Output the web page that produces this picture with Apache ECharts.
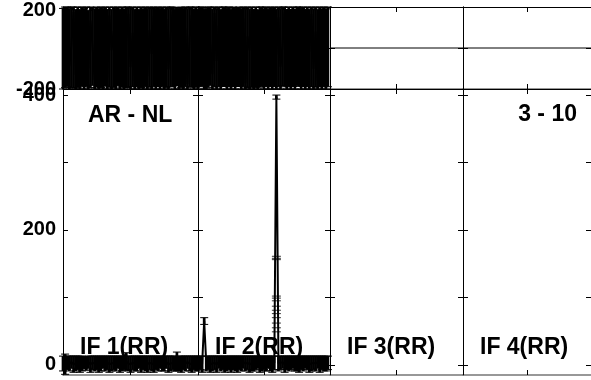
<!DOCTYPE html>
<html><head><meta charset="utf-8">
<script src="https://cdn.jsdelivr.net/npm/echarts@6/dist/echarts.min.js"></script>
<style>html,body{margin:0;padding:0;background:#fff}#c{width:591px;height:380px}</style>
</head><body><div id="c"></div>
<script>
// ---- labels ----
const ifLabels = ['IF 1(RR)', 'IF 2(RR)', 'IF 3(RR)', 'IF 4(RR)'];
const baselineLabel = 'AR - NL';
const scanLabel = '3 - 10';
const phaseTickValues = [-200, 0, 200];
const phaseLabelValues = [-200, 200];
const ampTickValues = [0, 100, 200, 300, 400];
const ampLabelValues = [0, 200, 400];

// ---- phase (deg) per channel, IF1 / IF2, with errors ----
const phaseIF1 = [
 -152, 47, 163, -88, 12, 175, -131, 96, -23, 148, -170, 61, -99, 134, 8, -157,
 119, -45, 172, -66, 27, -142, 158, -11, 83, -178, 139, -54, 101, -122, 35, 167,
 -93, 74, -161, 126, -7, 179, -115, 52, -137, 88, -29, 154, -74, 19, -168, 111,
 -49, 141, -104, 66, 177, -83, 5, -146, 129, -38, 95, -175, 43, 161, -118, 71];
const phaseErrIF1 = [
 345, 240, 352, 280, 205, 370, 318, 290, 210, 335, 362, 250, 283, 327, 190, 348,
 310, 236, 365, 258, 213, 330, 349, 198, 275, 371, 324, 242, 292, 313, 228, 358,
 287, 262, 350, 316, 194, 372, 306, 241, 329, 279, 222, 343, 268, 207, 360, 300,
 239, 333, 297, 255, 366, 271, 188, 337, 321, 230, 284, 367, 233, 352, 309, 262];
const phaseIF2 = [
 -164, 58, 137, -21, -176, 92, 14, -128, 171, -63, 108, -149, 31, 156, -97, 77,
 -39, 169, -134, 3, 121, -81, 145, -172, 56, -12, 179, -108, 86, -155, 23, 133,
 -69, 162, -117, 41, -179, 99, -33, 150, -91, 16, 174, -140, 64, -58, 127, -165,
 9, 143, -76, 180, -126, 49, -17, 166, -101, 80, -159, 117, -44, 158, -85, 30];
const phaseErrIF2 = [
 352, 247, 323, 209, 368, 284, 196, 318, 361, 255, 297, 336, 218, 344, 290, 266,
 228, 357, 326, 191, 309, 272, 334, 365, 249, 202, 370, 296, 278, 341, 214, 320,
 260, 349, 307, 229, 372, 287, 221, 339, 283, 199, 363, 328, 253, 246, 315, 355,
 193, 330, 269, 368, 314, 238, 206, 354, 292, 271, 346, 305, 235, 347, 276, 219];
// IF3 / IF4 phases: flat zero across the band
const flatChannels = [0, 64];
const phaseIF3 = [0, 0];
const phaseIF4 = [0, 0];

// ---- amplitude per channel, IF1 / IF2, with errors ----
const ampIF1 = [
 2, 1, 3, 2, 4, 1, 2, 3, 1, 2, 3, 2, 4, 1, 3, 2,
 3, 1, 2, 4, 2, 3, 1, 2, 3, 2, 4, 1, 2, 3, 5, 2,
 1, 3, 2, 2, 4, 1, 3, 2, 1, 3, 2, 1, 3, 2, 4, 2,
 2, 4, 1, 2, 3, 2, 5, 2, 1, 3, 2, 4, 2, 1, 3, 2];
const ampErrIF1 = [
 11, 15, 10, 11, 9, 12, 11, 10, 12, 11, 9, 10, 9, 12, 10, 11,
 10, 12, 11, 9, 11, 10, 12, 11, 10, 11, 9, 12, 11, 10, 13, 11,
 12, 10, 11, 11, 9, 12, 10, 11, 12, 10, 11, 12, 10, 11, 9, 11,
 11, 9, 12, 11, 10, 11, 14, 11, 12, 10, 11, 9, 11, 12, 10, 11];
const ampIF2 = [
 2, 3, 1, 65, 2, 3, 1, 2, 3, 1, 4, 2, 3, 1, 2, 3,
 1, 3, 2, 1, 3, 2, 4, 2, 3, 1, 2, 2, 3, 4, 1, 2,
 3, 2, 4, 2, 1, 3, 397, 2, 3, 4, 1, 3, 2, 3, 4, 2,
 2, 1, 3, 2, 4, 3, 1, 2, 3, 2, 4, 1, 3, 2, 2, 3];
const ampErrIF2 = [
 11, 10, 12, 5, 11, 10, 12, 11, 10, 12, 9, 11, 10, 12, 11, 10,
 12, 10, 11, 12, 10, 11, 9, 11, 10, 12, 11, 11, 10, 9, 12, 11,
 10, 11, 9, 11, 12, 10, 3, 11, 10, 9, 12, 10, 11, 10, 9, 11,
 11, 12, 10, 11, 9, 10, 12, 11, 10, 11, 9, 12, 10, 11, 11, 10];
// extra error-bar caps stacked on the strong IF2 channel
const spikeChannel = 38;
const spikeCapLevels = [161, 158, 156, 102, 99, 95, 87, 81, 76, 70, 62, 55, 49];

// ---- layout ----
const cols = [{left: 63, width: 135}, {left: 198, width: 132}, {left: 330, width: 133}, {left: 463, width: 133}];
const rows = [{top: 7, height: 82, min: -200, max: 200}, {top: 89, height: 286, min: -15, max: 409}];
const FONT = '"Liberation Sans", Arial, sans-serif';

const grid = [], xAxis = [], yAxis = [];
rows.forEach((r, ri) => cols.forEach((c, ci) => {
  const g = grid.length;
  grid.push({left: c.left, top: r.top, width: c.width, height: r.height, containLabel: false});
  const tick = {show: true, inside: true, length: 5, lineStyle: {color: '#000', width: 1}};
  ['bottom', 'top'].forEach(pos => xAxis.push({
    type: 'value', gridIndex: g, position: pos, min: 0, max: 64, interval: 32,
    axisLine: {show: true, onZero: false, lineStyle: pos === 'bottom' ? {color: '#777', width: 1.5} : {color: '#000', width: 1}},
    axisTick: tick, axisLabel: {show: false}, splitLine: {show: false}
  }));
  ['left', 'right'].forEach(pos => {
    const isPhase = ri === 0;
    const ax = {
      type: 'value', gridIndex: g, position: pos, min: r.min, max: r.max,
      axisLine: {show: true, onZero: false, lineStyle: {color: '#000', width: 1}},
      axisTick: Object.assign({}, tick, {customValues: isPhase ? phaseTickValues : ampTickValues}),
      splitLine: {show: false},
      axisLabel: {show: pos === 'left' && ci === 0, margin: 7, color: '#000',
        fontFamily: FONT, fontWeight: 'bold', fontSize: 20,
        customValues: isPhase ? phaseLabelValues : ampLabelValues}
    };
    if (isPhase) {
      ax.axisLabel.formatter = v => v === 200 ? '{a|200}' : '{b|' + v + '}';
      ax.axisLabel.rich = {
        a: {padding: [6, 0, 0, 0], fontFamily: FONT, fontWeight: 'bold', fontSize: 20, color: '#000'},
        b: {fontFamily: FONT, fontWeight: 'bold', fontSize: 20, color: '#000'}
      };
    }
    yAxis.push(ax);
  });
}));

function errBars(yMin, yMax, hw, lw) {
  return function (params, api) {
    const x = api.value(0), v = api.value(1), e = api.value(2);
    const lo = Math.max(yMin, v - e), hi = Math.min(yMax, v + e);
    const a = api.coord([x, lo]), b = api.coord([x, hi]);
    const st = {stroke: '#000', lineWidth: lw};
    const cs = {stroke: '#000', lineWidth: 1};
    return {type: 'group', children: [
      {type: 'line', shape: {x1: a[0], y1: a[1], x2: b[0], y2: b[1]}, style: st},
      {type: 'line', shape: {x1: a[0] - hw, y1: a[1], x2: a[0] + hw, y2: a[1]}, style: cs},
      {type: 'line', shape: {x1: b[0] - hw, y1: b[1], x2: b[0] + hw, y2: b[1]}, style: cs}
    ]};
  };
}
const pts = arr => arr.map((v, i) => [i, v]);
const errPts = (arr, err) => arr.map((v, i) => [i, v, err[i]]);
const lineS = (data, g, w) => ({type: 'line', xAxisIndex: 2 * g, yAxisIndex: 2 * g, data, showSymbol: false,
  lineStyle: {color: '#000', width: w}, silent: true, z: 3});
const errS = (data, g, r) => ({type: 'custom', xAxisIndex: 2 * g, yAxisIndex: 2 * g, data,
  renderItem: errBars(rows[r].min, rows[r].max, 4, 2.7), silent: true, z: 3});

const series = [
  lineS(pts(phaseIF1), 0, 2), errS(errPts(phaseIF1, phaseErrIF1), 0, 0),
  lineS(pts(phaseIF2), 1, 2), errS(errPts(phaseIF2, phaseErrIF2), 1, 0),
  lineS(flatChannels.map((ch, i) => [ch, phaseIF3[i]]), 2, 1),
  lineS(flatChannels.map((ch, i) => [ch, phaseIF4[i]]), 3, 1),
  lineS(pts(ampIF1), 4, 2), errS(errPts(ampIF1, ampErrIF1), 4, 1),
  lineS(pts(ampIF2), 5, 2), errS(errPts(ampIF2, ampErrIF2), 5, 1),
  {type: 'scatter', xAxisIndex: 10, yAxisIndex: 10, data: spikeCapLevels.map(v => [spikeChannel, v]),
   symbol: 'rect', symbolSize: [9, 1], itemStyle: {color: '#000'}, silent: true, z: 3}
];

const txt = (text, x, y, align) => ({type: 'text', x, y, z: 10,
  style: {text, fill: '#000', font: 'bold 23px ' + FONT, align, verticalAlign: 'middle'}});
const graphic = [
  txt(baselineLabel, 88, 116, 'left'),
  txt(scanLabel, 577, 115, 'right')
].concat(ifLabels.map((t, i) => txt(t, cols[i].left + 17, 348, 'left')));

const chart = echarts.init(document.getElementById('c'), null, {renderer: 'canvas'});
chart.setOption({animation: false, backgroundColor: '#fff', grid, xAxis, yAxis, series, graphic});
</script></body></html>
